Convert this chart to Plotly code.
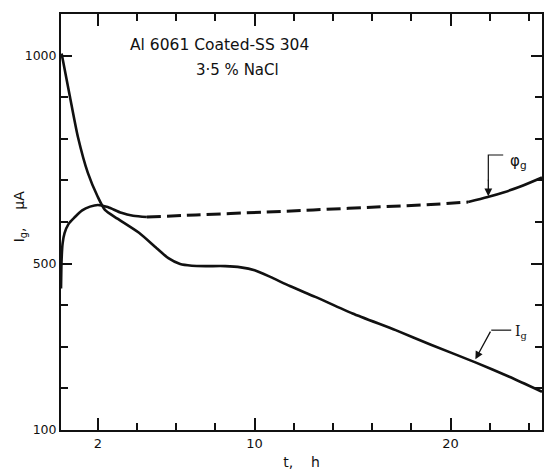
import plotly.graph_objects as go

# Galvanic current I_g (solid)
ig_t = [0.15, 0.58, 0.98, 1.49, 2.0, 2.36, 3.0, 4.1, 5.0, 5.6, 6.2, 6.8, 7.5, 8.5, 9.3, 10.0, 10.8, 11.8, 13.1, 15.0, 17.2, 19.0, 21.3, 23.0, 24.67]
ig_v = [1005, 900, 805, 718, 660, 629, 608, 574, 537, 513, 499, 495, 494, 494, 491, 484, 468, 446, 420, 380, 340, 305, 262, 228, 192]

# Galvanic potential phi_g : first solid part, dashed part, final solid part
phi1_t = [0.12, 0.15, 0.2, 0.3, 0.5, 0.83, 1.2, 1.6, 2.0, 2.5, 3.2, 3.8, 4.5]
phi1_v = [440, 510, 548, 573, 595, 612, 628, 637, 641, 636, 622, 615, 612]
phi2_t = [4.5, 7.0, 10.6, 13.0, 16.2, 19.0, 20.9]
phi2_v = [612, 617, 624, 629, 636, 642, 648]
phi3_t = [20.9, 21.9, 22.7, 23.5, 24.67]
phi3_v = [648, 660, 671, 684, 707]

x_major = [2, 10, 20]
x_major_text = ["2", "10", "20"]
y_major = [100, 500, 1000]
y_major_text = ["100", "500", "1000"]

FONT = "DejaVu Sans"
BLACK = "#111111"

fig = go.Figure()
fig.add_trace(go.Scatter(x=ig_t, y=ig_v, mode="lines", line=dict(color=BLACK, width=2.6, shape="spline", smoothing=0.6)))
fig.add_trace(go.Scatter(x=phi1_t, y=phi1_v, mode="lines", line=dict(color=BLACK, width=2.6, shape="spline", smoothing=0.8)))
fig.add_trace(go.Scatter(x=phi2_t, y=phi2_v, mode="lines", line=dict(color=BLACK, width=3, shape="spline", dash="14px,6px")))
fig.add_trace(go.Scatter(x=phi3_t, y=phi3_v, mode="lines", line=dict(color=BLACK, width=2.6, shape="spline", smoothing=0.8)))

# leader lines (elbows)
fig.add_shape(type="path", path="M 22.69 761 L 21.93 761 L 21.93 700", line=dict(color=BLACK, width=1.2), xref="x", yref="y")
fig.add_shape(type="path", path="M 23.1 340 L 22.08 340", line=dict(color=BLACK, width=1.2), xref="x", yref="y")

fig.add_annotation(x=21.93, y=662, ax=21.93, ay=705, axref="x", ayref="y", xref="x", yref="y",
                   showarrow=True, arrowhead=2, arrowsize=1.2, arrowwidth=1.3, arrowcolor=BLACK, text="")
fig.add_annotation(x=21.27, y=270, ax=22.08, ay=340, axref="x", ayref="y", xref="x", yref="y",
                   showarrow=True, arrowhead=2, arrowsize=1.2, arrowwidth=1.3, arrowcolor=BLACK, text="")

fig.add_annotation(x=23.45, y=745, text="φ<sub>g</sub>", showarrow=False, font=dict(family=FONT, size=15, color=BLACK))
fig.add_annotation(x=23.6, y=335, text="I<sub>g</sub>", showarrow=False, font=dict(family="DejaVu Serif", size=14, color=BLACK))

fig.add_annotation(x=8.2, y=1025, text="Al 6061 Coated-SS 304", showarrow=False, font=dict(family=FONT, size=15.5, color=BLACK))
fig.add_annotation(x=9.14, y=965, text="3·5 % NaCl", showarrow=False, font=dict(family=FONT, size=15, color=BLACK))

# y-axis title placed to match the reference
fig.add_annotation(x=-0.085, y=0.514, xref="paper", yref="paper", text="I<sub>g</sub>,    μA", textangle=-90,
                   showarrow=False, xanchor="center", yanchor="middle", font=dict(family=FONT, size=14, color=BLACK))

fig.update_xaxes(range=[0.119, 24.67], showgrid=False, zeroline=False,
                 showline=True, linecolor=BLACK, linewidth=2, mirror="ticks",
                 ticks="inside", ticklen=12, tickwidth=2, tickcolor=BLACK,
                 tickvals=x_major, ticktext=x_major_text,
                 minor=dict(ticks="inside", ticklen=7, tickwidth=1.5, tickcolor=BLACK, tick0=0, dtick=2, showgrid=False),
                 tickfont=dict(family=FONT, size=13, color=BLACK),
                 title=dict(text="t,    h", font=dict(family=FONT, size=14, color=BLACK), standoff=8))
fig.update_yaxes(range=[100, 1100], showgrid=False, zeroline=False,
                 showline=True, linecolor=BLACK, linewidth=2, mirror="ticks",
                 ticks="inside", ticklen=11, tickwidth=2, tickcolor=BLACK,
                 tickvals=y_major, ticktext=y_major_text,
                 minor=dict(ticks="inside", ticklen=7, tickwidth=1.5, tickcolor=BLACK, tick0=0, dtick=100, showgrid=False),
                 tickfont=dict(family=FONT, size=12.5, color=BLACK))

fig.update_layout(width=544, height=474, margin=dict(l=61, r=0, t=14, b=44),
                  plot_bgcolor="white", paper_bgcolor="white", showlegend=False)

fig.write_html("out.html")
